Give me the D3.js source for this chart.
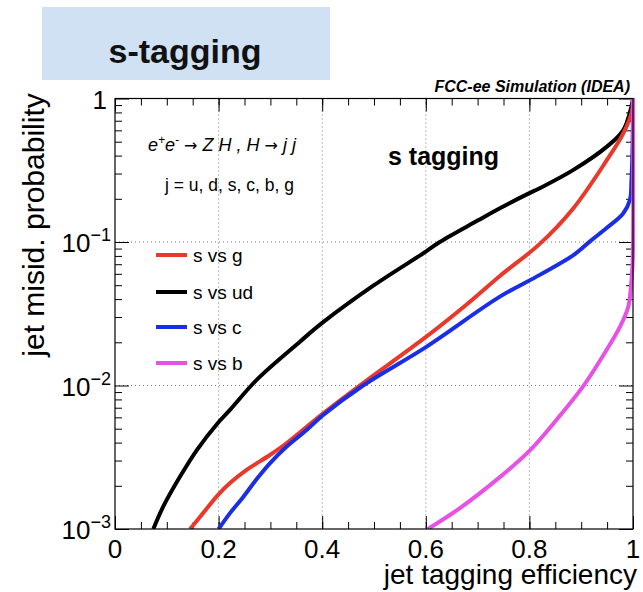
<!DOCTYPE html>
<html>
<head>
<meta charset="utf-8">
<script src="https://cdn.jsdelivr.net/npm/d3@7"></script>
<style>
  body { margin: 0; background: #fff; }
  svg { display: block; font-family: "Liberation Sans", Arial, Helvetica, sans-serif; }
</style>
</head>
<body>
<svg id="chart" width="643" height="592"></svg>
<script>
// curve data: jet tagging efficiency vs misid. probability
const sVsUdEff  = [0.074, 0.093, 0.125, 0.158, 0.199, 0.222, 0.274, 0.357, 0.40, 0.50, 0.60, 0.627, 0.70, 0.743, 0.80, 0.82, 0.885, 0.949, 0.981, 0.997, 1.0];
const sVsUdProb = [1e-3, 1.43e-3, 2.3e-3, 3.55e-3, 5.5e-3, 6.76e-3, 1.1e-2, 2.02e-2, 2.73e-2, 5.0e-2, 8.57e-2, 0.1, 0.141, 0.172, 0.219, 0.237, 0.318, 0.46, 0.60, 0.88, 1.0];

const sVsGEff  = [0.145, 0.170, 0.199, 0.222, 0.254, 0.299, 0.331, 0.370, 0.402, 0.479, 0.601, 0.68, 0.743, 0.82, 0.885, 0.949, 0.981, 0.997, 1.0];
const sVsGProb = [1e-3, 1.29e-3, 1.73e-3, 2.09e-3, 2.58e-3, 3.28e-3, 3.96e-3, 5.16e-3, 6.4e-3, 1.04e-2, 2.19e-2, 3.7e-2, 5.8e-2, 0.097, 0.172, 0.37, 0.57, 0.79, 1.0];

const sVsCEff  = [0.200, 0.222, 0.248, 0.274, 0.299, 0.331, 0.370, 0.402, 0.479, 0.601, 0.743, 0.82, 0.885, 0.917, 0.949, 0.981, 0.994, 0.997, 0.9993, 1.0];
const sVsCProb = [1e-3, 1.29e-3, 1.68e-3, 2.24e-3, 2.87e-3, 3.74e-3, 4.9e-3, 6.23e-3, 1.0e-2, 1.86e-2, 4.16e-2, 5.9e-2, 8.1e-2, 0.101, 0.125, 0.158, 0.196, 0.27, 0.5, 1.0];

const sVsBEff  = [0.604, 0.666, 0.743, 0.80, 0.852, 0.904, 0.949, 0.975, 0.991, 0.997, 0.9995, 1.0];
const sVsBProb = [1e-3, 1.4e-3, 2.3e-3, 3.5e-3, 5.75e-3, 9.9e-3, 1.77e-2, 2.57e-2, 3.55e-2, 5.43e-2, 7.5e-2, 1.0];

const seriesNames  = ["s vs g", "s vs ud", "s vs c", "s vs b"];
const seriesColors = ["#e8392b", "#000000", "#1a2ee8", "#e552e5"];

const xTickLabels = ["0", "0.2", "0.4", "0.6", "0.8", "1"];
const yDecades = [1, 0.1, 0.01, 0.001];

const series = [
  { name: seriesNames[0], color: seriesColors[0], eff: sVsGEff, prob: sVsGProb },
  { name: seriesNames[1], color: seriesColors[1], eff: sVsUdEff, prob: sVsUdProb },
  { name: seriesNames[2], color: seriesColors[2], eff: sVsCEff, prob: sVsCProb },
  { name: seriesNames[3], color: seriesColors[3], eff: sVsBEff, prob: sVsBProb }
];

const svg = d3.select("#chart");
const margin = { top: 98.5, right: 10, bottom: 63, left: 115 };
const width = 643, height = 592;
const innerWidth = width - margin.left - margin.right;
const innerHeight = height - margin.top - margin.bottom;

// title box
svg.append("rect")
  .attr("x", 42).attr("y", 7)
  .attr("width", 288).attr("height", 73)
  .style("fill", "#cfe1f3");
svg.append("text")
  .attr("x", 185).attr("y", 63)
  .attr("text-anchor", "middle")
  .style("font-size", "34px")
  .style("font-weight", "bold")
  .style("fill", "#111")
  .text("s-tagging");

svg.append("text")
  .attr("x", 630).attr("y", 92)
  .attr("text-anchor", "end")
  .style("font-size", "16px")
  .style("font-weight", "bold")
  .style("font-style", "italic")
  .text("FCC-ee Simulation (IDEA)");

const g = svg.append("g")
  .attr("transform", `translate(${margin.left},${margin.top})`);

const x = d3.scaleLinear().domain([0, 1]).range([0, innerWidth]);
const y = d3.scaleLog().domain([1e-3, 1]).range([innerHeight, 0]);

// grid lines (dotted)
const gridG = g.append("g").attr("class", "grid");
gridG.selectAll("line.gx")
  .data([0.2, 0.4, 0.6, 0.8])
  .enter().append("line")
  .attr("x1", d => x(d)).attr("x2", d => x(d))
  .attr("y1", 0).attr("y2", innerHeight)
  .style("stroke", "#777").style("stroke-width", 1).style("stroke-dasharray", "1,3");
gridG.selectAll("line.gy")
  .data([0.1, 0.01])
  .enter().append("line")
  .attr("x1", 0).attr("x2", innerWidth)
  .attr("y1", d => y(d)).attr("y2", d => y(d))
  .style("stroke", "#777").style("stroke-width", 1).style("stroke-dasharray", "1,3");

// axes: ticks point inward on all four sides
const xMajor = d3.range(0, 1.0001, 0.2);
const xMinor = d3.range(0, 1.0001, 0.05);
const yMinor = [];
[0.001, 0.01, 0.1].forEach(d => { for (let k = 2; k <= 9; k++) yMinor.push(d * k); });

function styleAxis(sel) {
  sel.select(".domain").remove();
  sel.selectAll("line").style("stroke", "#000").style("stroke-width", 1);
  sel.selectAll("text").remove();
}

g.append("g").attr("transform", `translate(0,${innerHeight})`)
  .call(d3.axisBottom(x).tickValues(xMinor).tickSize(-7)).call(styleAxis);
g.append("g").attr("transform", `translate(0,${innerHeight})`)
  .call(d3.axisBottom(x).tickValues(xMajor).tickSize(-13)).call(styleAxis);
g.append("g")
  .call(d3.axisTop(x).tickValues(xMinor).tickSize(-7)).call(styleAxis);
g.append("g")
  .call(d3.axisTop(x).tickValues(xMajor).tickSize(-13)).call(styleAxis);
g.append("g")
  .call(d3.axisLeft(y).tickValues(yMinor).tickSize(-7)).call(styleAxis);
g.append("g")
  .call(d3.axisLeft(y).tickValues(yDecades).tickSize(-14)).call(styleAxis);
g.append("g").attr("transform", `translate(${innerWidth},0)`)
  .call(d3.axisRight(y).tickValues(yMinor).tickSize(-7)).call(styleAxis);
g.append("g").attr("transform", `translate(${innerWidth},0)`)
  .call(d3.axisRight(y).tickValues(yDecades).tickSize(-14)).call(styleAxis);

// curves
g.append("clipPath").attr("id", "plotclip")
  .append("rect").attr("x", 0).attr("y", -2).attr("width", innerWidth + 2).attr("height", innerHeight + 2);

const line = d3.line()
  .x(d => x(d[0]))
  .y(d => y(d[1]))
  .curve(d3.curveCatmullRom.alpha(0.5));

const curvesG = g.append("g").attr("clip-path", "url(#plotclip)");
// draw order: ud, g, c, b (magenta on top at the right edge)
[1, 0, 2, 3].forEach(i => {
  const s = series[i];
  curvesG.append("path")
    .datum(d3.zip(s.eff, s.prob))
    .attr("d", line)
    .style("fill", "none")
    .style("stroke", s.color)
    .style("stroke-width", 4)
    .style("stroke-linejoin", "round");
});

// frame
g.append("rect")
  .attr("width", innerWidth).attr("height", innerHeight)
  .style("fill", "none").style("stroke", "#000").style("stroke-width", 1.2);

// tick labels
g.selectAll("text.xlab")
  .data(xMajor)
  .enter().append("text")
  .attr("x", d => x(d))
  .attr("y", innerHeight + 29)
  .attr("text-anchor", "middle")
  .style("font-size", "26px")
  .text((d, i) => xTickLabels[i]);

yDecades.forEach(d => {
  const t = g.append("text")
    .attr("y", y(d) + 10)
    .attr("text-anchor", "end")
    .style("font-size", "26px");
  const exp = Math.round(Math.log10(d));
  if (exp === 0) {
    t.attr("x", -8).text("1");
  } else {
    t.attr("x", -4);
    t.append("tspan").text("10");
    t.append("tspan").attr("dy", -11).style("font-size", "18px").text("\u2212" + (-exp));
  }
});

// axis titles
svg.append("text")
  .attr("x", 637).attr("y", 584)
  .attr("text-anchor", "end")
  .style("font-size", "28px")
  .text("jet tagging efficiency");
svg.append("text")
  .attr("transform", "translate(44,225) rotate(-90)")
  .attr("text-anchor", "middle")
  .style("font-size", "30px")
  .text("jet misid. probability");

// physics annotation
const proc = g.append("text")
  .attr("x", 33).attr("y", 52)
  .style("font-size", "18px")
  .style("font-style", "italic");
proc.append("tspan").text("e");
proc.append("tspan").attr("dy", -7).style("font-size", "12px").text("+");
proc.append("tspan").attr("dy", 7).text("e");
proc.append("tspan").attr("dy", -7).style("font-size", "12px").text("-");
proc.append("tspan").attr("dy", 7).text(" ");
proc.append("tspan").style("font-family", "DejaVu Sans").style("font-style", "normal").style("font-size", "16px").text("\u2192");
proc.append("tspan").text(" Z H , H ");
proc.append("tspan").style("font-family", "DejaVu Sans").style("font-style", "normal").style("font-size", "16px").text("\u2192");
proc.append("tspan").text(" j j");

g.append("text")
  .attr("x", 50).attr("y", 92)
  .style("font-size", "17.5px")
  .text("j = u, d, s, c, b, g");

g.append("text")
  .attr("x", 273).attr("y", 66)
  .style("font-size", "25px")
  .style("font-weight", "bold")
  .text("s tagging");

// legend
const legendRows = [255, 292, 327, 363];
const legend = g.append("g");
series.forEach((s, i) => {
  const ly = legendRows[i] - margin.top;
  legend.append("line")
    .attr("x1", 41).attr("x2", 72)
    .attr("y1", ly).attr("y2", ly)
    .style("stroke", s.color).style("stroke-width", 4);
  legend.append("text")
    .attr("x", 78).attr("y", ly + 7)
    .style("font-size", "19px")
    .text(s.name);
});
</script>
</body>
</html>
